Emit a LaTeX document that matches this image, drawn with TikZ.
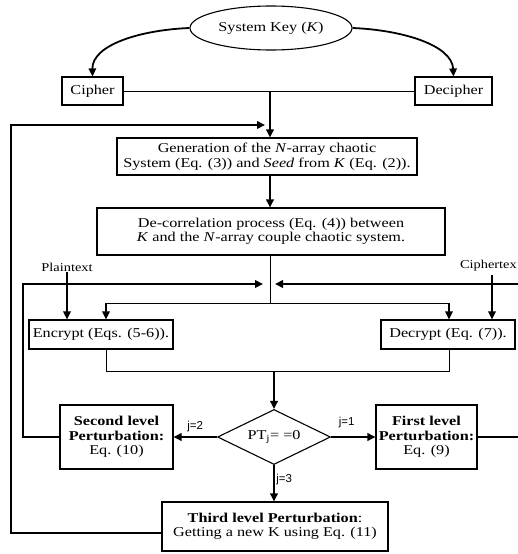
\documentclass[tikz,border=0pt]{standalone}
\usepackage{fontspec}
\setmainfont{Liberation Serif}[FakeStretch=1.2]
\newfontfamily\lblfont{Liberation Sans}
\usetikzlibrary{shapes.geometric,arrows.meta,calc}
\begin{document}
\begin{tikzpicture}[x=1pt,y=-1pt,
  txt/.style={font=\fontsize{13.5}{14.5}\selectfont},
  box/.style={draw,line width=1.1pt,rectangle,inner sep=0pt,align=center,txt},
  thin/.style={line width=1pt},
  mid/.style={line width=1.8pt},
  thk/.style={line width=2.6pt},
  tip/.style={-{Triangle[length=8pt,width=7.5pt]}},
  lbl/.style={font=\lblfont\fontsize{11.5}{13}\selectfont,inner sep=1pt}
]
\useasboundingbox (0,0) rectangle (517,554);

% nodes
\node[ellipse,draw,line width=1.1pt,minimum width=162pt,minimum height=44pt,inner sep=0pt,txt] (sk) at (271,28) {System Key (\textit{K})};
\node[box,minimum width=61pt,minimum height=28pt] (ci) at (92.5,91) {Cipher};
\node[box,minimum width=77pt,minimum height=28pt] (de) at (453.5,91) {Decipher};
\node[box,minimum width=300pt,minimum height=37pt] (gen) at (267,156.5)
  {Generation of the \textit{N}-array chaotic\\System (Eq. (3)) and \textit{Seed} from \textit{K} (Eq. (2)).};
\node[box,minimum width=348pt,minimum height=47pt] (dc) at (271,231.5)
  {De-correlation process (Eq. (4)) between\\\textit{K} and the \textit{N}-array couple chaotic system.};
\node[txt,font=\fontsize{12}{14}\selectfont,inner sep=1pt] (pl) at (67,267) {Plaintext};
\node[txt,font=\fontsize{12}{14}\selectfont,inner sep=1pt,anchor=east] (ct) at (518,266) {Ciphertex};
\node[box,minimum width=144pt,minimum height=29pt] (enc) at (101,334.5) {Encrypt (Eqs. (5-6)).};
\node[box,minimum width=134pt,minimum height=29pt] (dcr) at (448,334.5) {Decrypt (Eq. (7)).};
\node[diamond,draw,line width=1.1pt,aspect=2.05,minimum width=113pt,minimum height=55pt,inner sep=0pt,txt] (dia) at (274,437) {PT\textsubscript{j}= =0};
\node[box,minimum width=113pt,minimum height=64pt] (sec) at (116.5,437)
  {\textbf{Second level}\\\textbf{Perturbation:}\\Eq. (10)};
\node[box,minimum width=101pt,minimum height=64pt] (fst) at (426.5,437)
  {\textbf{First level}\\\textbf{Perturbation:}\\Eq. (9)};
\node[box,minimum width=226pt,minimum height=49pt] (thd) at (275,526.5)
  {\textbf{Third level Perturbation}:\\Getting a new K using Eq. (11)};

% coordinates
\coordinate (c1) at (270,91);
\coordinate (t3) at (162,533);
\coordinate (lo) at (11,125);
\coordinate (la) at (265,125);
\coordinate (m1) at (270,303);
\coordinate (e1) at (106,303);
\coordinate (d1) at (449,303);
\coordinate (c2) at (492,275);
\coordinate (e2) at (106,371);
\coordinate (d2) at (449,371);
\coordinate (m2) at (274,371);
\coordinate (r1) at (530,437);
\coordinate (r2) at (275,284);
\coordinate (l1) at (23,437);
\coordinate (l3) at (263,284);

% connectors
\draw[mid,tip] (sk.west) .. controls (140,30) and (92,45) .. (ci.north);
\draw[mid,tip] (sk.east) .. controls (402,30) and (452,45) .. (de.north);
\draw[thin] (ci.east) -- (de.west);
\draw[thk,tip] (c1) -- (c1 |- gen.north);
\draw[thk,tip] (t3) -| (lo) -- (la);
\draw[thk,tip] (c1 |- gen.south) -- (c1 |- dc.north);
\draw[thin] (c1 |- dc.south) -- (m1);
\draw[thin] (e1) -- (d1);
\draw[thin,line width=1.4pt,tip] (e1) -- (e1 |- enc.north);
\draw[thin,line width=1.4pt,tip] (d1) -- (d1 |- dcr.north);
\draw[mid,tip] (pl.south) -- (pl.south |- enc.north);
\draw[mid,tip] (c2) -- (c2 |- dcr.north);
\draw[thin] (e2 |- enc.south) -- (e2) -- (d2) -- (d2 |- dcr.south);
\draw[thk,tip] (m2) -- (dia.north);
\draw[thk,tip] (dia.west) -- node[lbl,above=3pt]{j=2} (sec.east);
\draw[thk,tip] (dia.east) -- node[lbl,above=7pt,pos=0.35]{j=1} (fst.west);
\draw[thk,tip] (dia.south) -- node[lbl,right=0pt,pos=0.4]{j=3} (dia.south |- thd.north);
\draw[thk,tip] (fst.east) -- (r1) |- (r2);
\draw[thk,tip] (sec.west) -- (l1) |- (l3);
\end{tikzpicture}
\end{document}
